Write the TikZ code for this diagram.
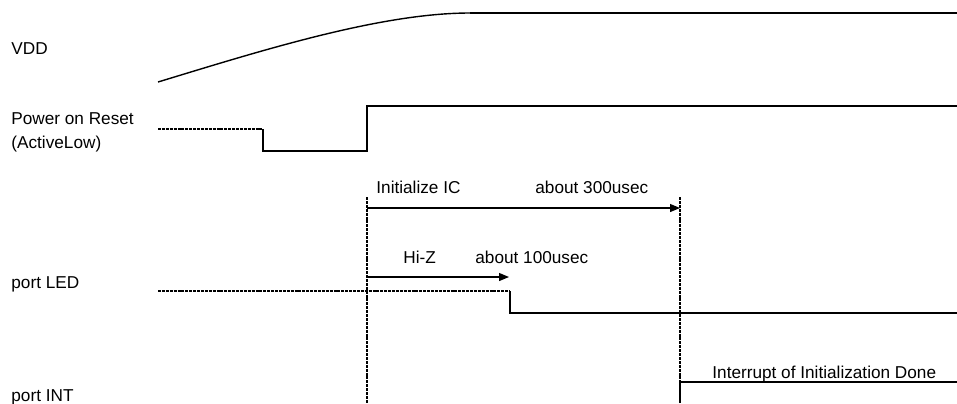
\documentclass[tikz,border=0pt]{standalone}
\usepackage{fontspec}
\setmainfont{Liberation Sans}
\usetikzlibrary{arrows.meta}

\begin{document}
\begin{tikzpicture}[x=0.5pt,y=-0.5pt,
	lbl/.style={anchor=base west,inner sep=0pt,font=\fontsize{8.6}{10}\selectfont},
	sig/.style={line width=1pt},
	hiz/.style={line width=0.7pt,dash pattern=on 1.5pt off 0.45pt},
	span/.style={line width=0.6pt,-{Triangle[length=5pt,width=4pt]}}]
	 \useasboundingbox (0,0) rectangle (957,403);

	 \node at (11,54) [lbl] (vdd) {VDD};
	 \node at (11,124.5) [lbl] (por) {Power on Reset};
	 \node at (11,148) [lbl] (porlow) {(ActiveLow)};
	 \node at (11,288) [lbl] (led) {port LED};
	 \node at (11,401) [lbl] (int) {port INT};

	 \node at (376,193) [lbl] (init) {Initialize IC};
	 \node at (535,193) [lbl] (t300) {about 300usec};
	 \node at (403,263) [lbl] (hiZ) {Hi-Z};
	 \node at (475,263) [lbl] (t100) {about 100usec};
	 \node at (712,378) [lbl] (done) {Interrupt of Initialization Done};

	 \coordinate (initS) at (367,208);
	 \coordinate (initE) at (680,208);
	 \coordinate (hizS) at (368,277);
	 \coordinate (hizE) at (509,277);

	 \draw[line width=0.7pt] (158,82) .. controls (260,51) and (380,13) .. (470,13);
	 \draw[sig] (470,13) -- (957,13);

	 \draw[hiz] (158,129) -- (263,129);
	 \draw[sig] (263,129) -- (263,151) -- (367,151) -- (367,106) -- (957,106);

	 \draw[hiz] (367,197) -- (367,403);
	 \draw[hiz] (680,197) -- (680,382);

	 \draw[span] (initS) -- (initE);
	 \draw[span] (hizS) -- (hizE);

	 \draw[hiz] (158,291) -- (510,291);
	 \draw[sig] (510,291) -- (510,313) -- (957,313);

	 \draw[sig] (680,403) -- (680,382) -- (957,382);
\end{tikzpicture}
\end{document}
